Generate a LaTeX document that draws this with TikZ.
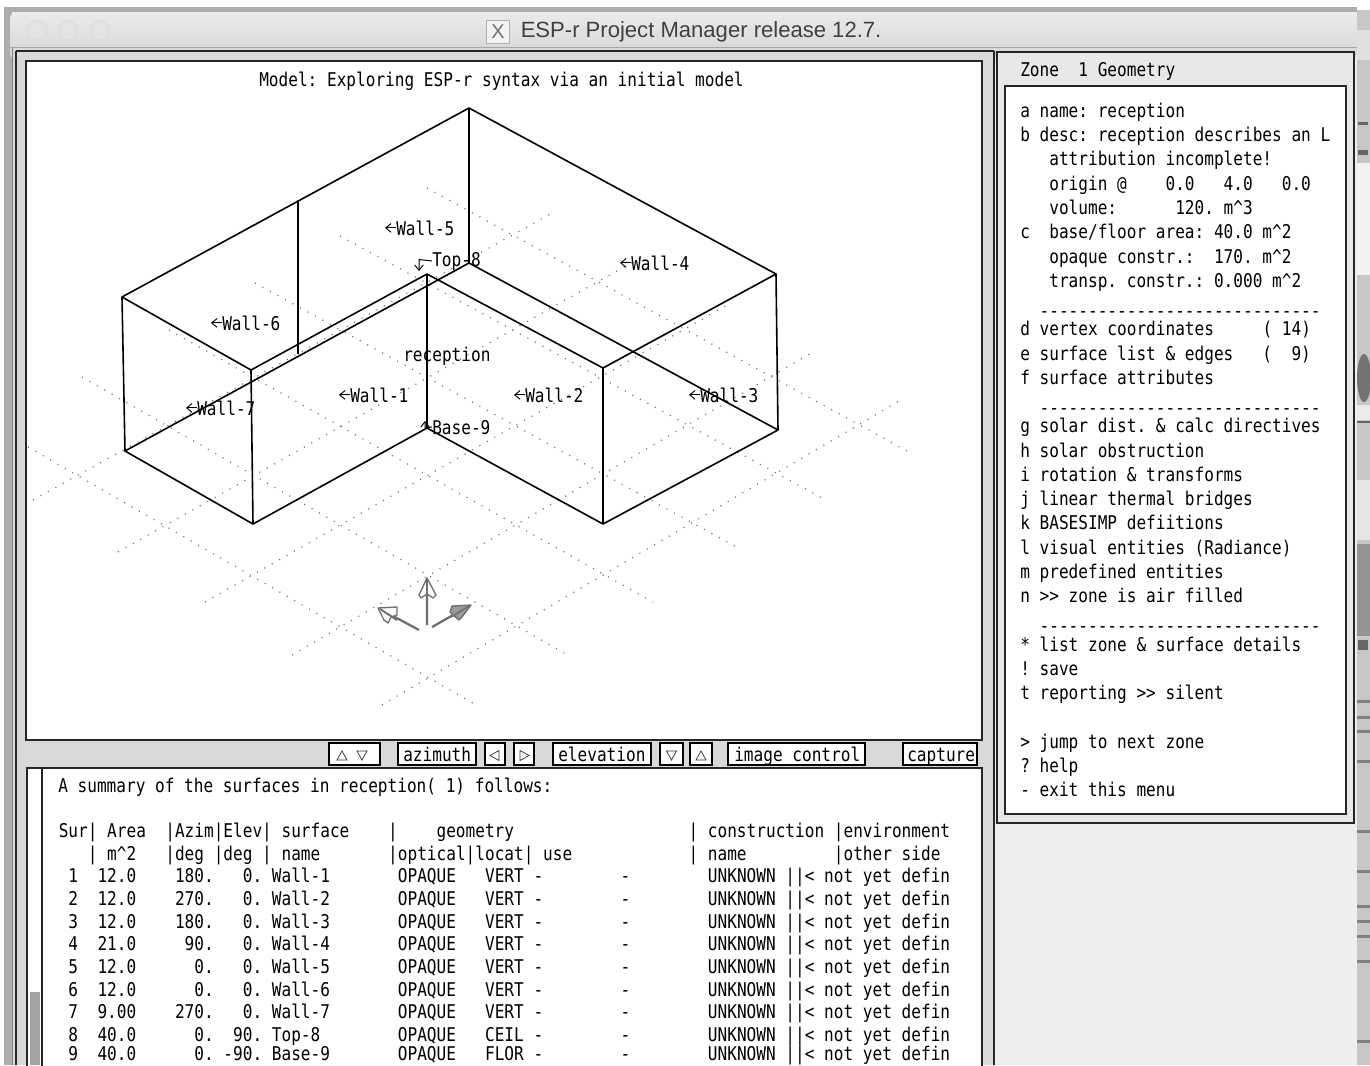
\documentclass[tikz,border=0pt]{standalone}
\usepackage{fontspec}
\setmainfont{Liberation Sans}
\newfontfamily\scr[FakeStretch=0.85]{DejaVu Sans Mono}
\newcommand\scrf{\scr\fontsize{14.2}{16}\selectfont\frenchspacing}
\usetikzlibrary{arrows.meta}
\newcounter{nn}
\definecolor{panel}{HTML}{D9D9D9}
\definecolor{light}{HTML}{EEEEEE}
\definecolor{axisgray}{HTML}{6E6E6E}
\definecolor{griddot}{HTML}{707070}
\tikzset{
  txt/.style={font=\scrf,inner sep=0pt,anchor=base west,text=black},
  frame/.style={draw=black!85,line width=1.5pt},
  griddots/.style={draw=griddot,line width=0.9pt,dash pattern=on 0.8pt off 5.6pt},
  edge/.style={draw=black,line width=1.2pt,line join=round},
  btn/.style={draw=black,line width=1.1pt,fill=white},
  icon/.style={draw=black!80,line width=0.55pt},
  lead/.style={draw=black,line width=0.75pt,-{Straight Barb[length=4pt,width=6.5pt,line width=0.7pt]}},
  ax/.style={draw=axisgray,line width=1.7pt},
  axhead/.style={draw=axisgray,line width=1pt,line join=round},
}
\newcommand\tx[4][]{\stepcounter{nn}\node[txt,#1] (t\thenn) at (#2,#3) {#4};}
\newcommand\lbl[4]{\node[txt] (#1) at (#2,#3) {#4};\draw[lead] (#1.west) -- ++(-11,0);}
\newcommand\srow[3]{\tx{58.5}{#1}{#2OPAQUE~~~#3~-~~~~~~~~-~~~~~~~~UNKNOWN~||<~not~yet~defin}}
\begin{document}
\begin{tikzpicture}[x=0.75pt,y=-0.75pt]
\useasboundingbox (0,0) rectangle (1370,1065);
\clip (0,0) rectangle (1370,1065);
\fill[white] (0,0) rectangle (1370,1065);
% neighbouring desktop at the right
\fill[black!22] (1357,10) rectangle (1370,1065);
\fill[black!12] (1357,30) rectangle (1370,60);
\fill[black!5] (1357,163) rectangle (1370,275);
\fill[black!42] (1357,544) rectangle (1370,636);
\fill[black!55] (1364,378) ellipse (7 and 24);
\fill[black!8] (1357,405) rectangle (1370,420);
\fill[black!60] (1357,421) rectangle (1370,423);
\fill[black!10] (1357,480) rectangle (1370,540);
\fill[black!60] (1358,122) rectangle (1368,125);
\fill[black!60] (1358,150) rectangle (1368,155);
\fill[black!60] (1358,640) rectangle (1368,650);
\foreach \yy in {700,716,730,760,830,870,905,920,935,960,1040} \fill[black!50] (1357,\yy) rectangle (1370,\yy+3);
% window shadow and body
\fill[black!32] (5,7) rectangle (1357,14);
\fill[black!32] (4,7) rectangle (12,1065);
\fill[light] (12,12) rectangle (1357,1065);
\shade[top color=black!8,bottom color=black!17,rounded corners=5pt] (10,12) rectangle (1357,60);
\fill[panel] (12,47) rectangle (16,1065);
\draw[black!50,line width=0.8pt] (12.5,47) -- (12.5,1065);
\draw[black!35,line width=0.8pt] (10,47.5) -- (1357,47.5);
% title bar
\foreach \cx/\nm in {37/l1,68/l2,100/l3} \draw[draw=black!14,fill=black!11,line width=0.6pt] (\cx,30) circle (9.5);
\node[draw=black!30,fill=black!5,line width=0.5pt,minimum width=17pt,minimum height=17pt,inner sep=0pt,font=\fontsize{15}{15}\selectfont\rmfamily,text=black!55] (xicon) at (498,32) {X};
\node[anchor=base west,inner sep=0pt,font=\fontsize{16.55}{18}\selectfont,text=black!75] (title) at (520.5,37.5) {ESP-r Project Manager release 12.7.};
% left panels
\fill[panel] (16,51) rectangle (994,1065);
\draw[frame] (16,51) -- (994,51) (994,51) -- (994,1065) (16,51) -- (16,1065);
\fill[white] (26,61) rectangle (982,740);
\draw[frame] (26,61) rectangle (982,740);
\fill[white] (27,768) rectangle (982,1070);
\draw[frame] (27,768) rectangle (982,1070);
\draw[frame] (41.5,768) -- (41.5,1070);
\fill[black!36] (29.5,992) rectangle (40,1065);
% right panel
\fill[black!9] (997,52) rectangle (1354,823);
\draw[frame] (997,52) rectangle (1354,823);
\fill[white] (1005,86) rectangle (1346,814);
\draw[frame] (1005,86) rectangle (1346,814);
% ground grid
\foreach \ax/\ay/\bx/\by in {28/447/476/705,82/377/564/653,169/330/653/602,255/283/740/549,340/236/822/498,427/188/907/451,
  382/705/899/401,292/655/813/352,205/602/727/305,118/552/640/258,33/500/554/212}
  \draw[griddots] (\ax,\ay) -- (\bx,\by);
% model wireframe
\coordinate (A) at (469,108); \coordinate (B) at (122,297); \coordinate (C) at (251,370);
\coordinate (D) at (427,274); \coordinate (E) at (603,368); \coordinate (F) at (776,274);
\coordinate (Ab) at (469,263); \coordinate (Bb) at (125,451); \coordinate (Cb) at (253,524);
\coordinate (Db) at (427,428); \coordinate (Eb) at (603,524); \coordinate (Fb) at (778,430);
\coordinate (Gt) at (298,200); \coordinate (Gb) at (298,354);
\draw[edge] (A) -- (B) -- (C) -- (D) -- (E) -- (F) -- cycle;
\draw[edge] (Bb) -- (Cb) -- (Db) -- (Eb) -- (Fb) -- (Ab) -- cycle;
\draw[edge] (A) -- (Ab) (B) -- (Bb) (C) -- (Cb) (D) -- (Db) (E) -- (Eb) (F) -- (Fb) (Gt) -- (Gb);
% axes
\coordinate (O1) at (427,625); \coordinate (T1) at (427,580);
\coordinate (O2) at (419,630); \coordinate (T2) at (380,609);
\coordinate (O3) at (432,627); \coordinate (T3) at (469,606);
\draw[ax] (O1) -- (T1) (O2) -- (T2) (O3) -- (T3);
\draw[axhead,fill=white] (427,578) -- (419,595) -- (421,598) -- (427,594) -- (433,598) -- (436,595) -- cycle;
\draw[ax,line width=1.2pt] (427,580) -- (427,598);
\draw[axhead,fill=white] (378,608) -- (397,607) -- (397,615) -- (391,617) -- (388,623) -- (384,620) -- cycle;
\draw[ax,line width=1.4pt] (380,609) -- (397,620);
\draw[axhead,fill=axisgray!70] (471,605) -- (452,606) -- (450,612) -- (453,615) -- (459,620) -- (462,617) -- cycle;
\draw[ax,line width=1.2pt] (469,606) -- (451,617);
% labels in the view
\tx{259}{86}{Model: Exploring ESP-r syntax via an initial model}
\lbl{w5}{396}{235}{Wall-5}
\lbl{w4}{631}{270}{Wall-4}
\lbl{w6}{222}{330}{Wall-6}
\lbl{w7}{197}{415}{Wall-7}
\lbl{w1}{350}{402}{Wall-1}
\lbl{w2}{525}{402}{Wall-2}
\lbl{w3}{700}{402}{Wall-3}
\node[txt] (top8) at (432,266) {Top-8};
\draw[lead] (top8.west) -- (419,259.5) -- (419,271);
\node[txt] (base9) at (432,434) {Base-9};
\draw[lead] (base9.west) -- (425,427.5) -- (425,421);
\node[txt] (recep) at (403,361) {reception};
% control bar
\foreach \xa/\xb in {329/380,398/476,485/505,514/534,553/651,660/683,690/712,728/865,903/977}
  \draw[btn] (\xa,743) rectangle (\xb,765);
\tx{403}{761}{azimuth}
\tx{558}{761}{elevation}
\tx{734}{761}{image control}
\tx{907}{761}{capture}
\draw[icon] (342,751) -- (347,760) -- (337,760) -- cycle;
\draw[icon] (362,760) -- (357,751) -- (367,751) -- cycle;
\draw[icon] (490,755.5) -- (499,750.5) -- (499,760.5) -- cycle;
\draw[icon] (529,755.5) -- (520,750.5) -- (520,760.5) -- cycle;
\draw[icon] (671.5,760) -- (666.5,751) -- (676.5,751) -- cycle;
\draw[icon] (701,751) -- (706,760) -- (696,760) -- cycle;
% table
\tx{58}{792}{A summary of the surfaces in reception( 1) follows:}
\tx{58.5}{837}{Sur|~Area~~|Azim|Elev|~surface~~~~|~~~~geometry~~~~~~~~~~~~~~~~~~|~construction~|environment}
\tx{58.5}{860}{~~~|~m\textasciicircum2~~~|deg~|deg~|~name~~~~~~~|optical|locat|~use~~~~~~~~~~~~|~name~~~~~~~~~|other~side}
\srow{882}{~1~~12.0~~~~180.~~~0.~Wall-1~~~~~~~}{VERT}
\srow{905}{~2~~12.0~~~~270.~~~0.~Wall-2~~~~~~~}{VERT}
\srow{928}{~3~~12.0~~~~180.~~~0.~Wall-3~~~~~~~}{VERT}
\srow{950}{~4~~21.0~~~~~90.~~~0.~Wall-4~~~~~~~}{VERT}
\srow{973}{~5~~12.0~~~~~~0.~~~0.~Wall-5~~~~~~~}{VERT}
\srow{996}{~6~~12.0~~~~~~0.~~~0.~Wall-6~~~~~~~}{VERT}
\srow{1018}{~7~~9.00~~~~270.~~~0.~Wall-7~~~~~~~}{VERT}
\srow{1041}{~8~~40.0~~~~~~0.~~90.~Top-8~~~~~~~~}{CEIL}
\srow{1060.5}{~9~~40.0~~~~~~0.~-90.~Base-9~~~~~~~}{FLOR}
% menu
\tx{1020}{76}{Zone~~1 Geometry}
\tx{1020}{117}{a name: reception}
\tx{1020}{141}{b desc: reception describes an L}
\tx{1020}{165}{~~~attribution incomplete!}
\tx{1020}{190}{~~~origin @~~~~0.0~~~4.0~~~0.0}
\tx{1020}{214}{~~~volume:~~~~~~120. m\textasciicircum3}
\tx{1020}{238}{c~~base/floor area: 40.0 m\textasciicircum2}
\tx{1020}{263}{~~~opaque constr.:~~170. m\textasciicircum2}
\tx{1020}{287}{~~~transp. constr.: 0.000 m\textasciicircum2}
\tx{1020}{317}{~~-----------------------------}
\tx{1020}{335}{d vertex coordinates~~~~~( 14)}
\tx{1020}{360}{e surface list \& edges~~~(~~9)}
\tx{1020}{384}{f surface attributes}
\tx{1020}{414}{~~-----------------------------}
\tx{1020}{432}{g solar dist. \& calc directives}
\tx{1020}{457}{h solar obstruction}
\tx{1020}{481}{i rotation \& transforms}
\tx{1020}{505}{j linear thermal bridges}
\tx{1020}{529}{k BASESIMP defiitions}
\tx{1020}{554}{l visual entities (Radiance)}
\tx{1020}{578}{m predefined entities}
\tx{1020}{602}{n >> zone is air filled}
\tx{1020}{632}{~~-----------------------------}
\tx{1020}{651}{* list zone \& surface details}
\tx{1020}{675}{! save}
\tx{1020}{699}{t reporting >> silent}
\tx{1020}{748}{> jump to next zone}
\tx{1020}{772}{? help}
\tx{1020}{796}{- exit this menu}
\end{tikzpicture}
\end{document}
